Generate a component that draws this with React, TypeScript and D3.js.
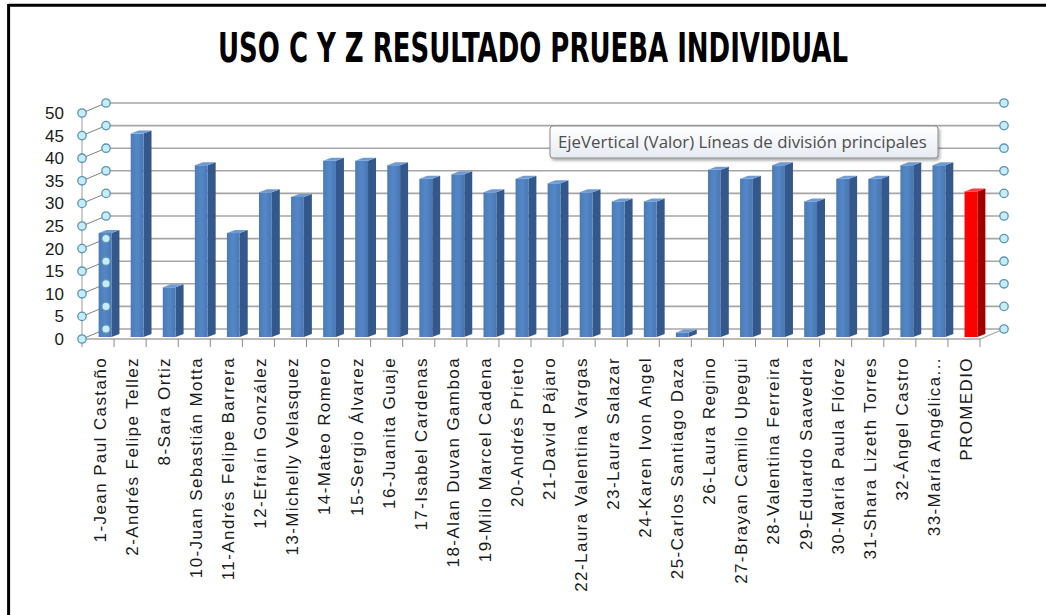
import React, { useLayoutEffect, useRef, useState } from "react";
import * as d3 from "d3";

const title = "USO C Y Z RESULTADO PRUEBA INDIVIDUAL";
const categories = [
  "1-Jean Paul Castaño",
  "2-Andrés Felipe Tellez",
  "8-Sara Ortiz",
  "10-Juan Sebastián  Motta",
  "11-Andrés Felipe Barrera",
  "12-Efraín González",
  "13-Michelly Velasquez",
  "14-Mateo Romero",
  "15-Sergio Álvarez",
  "16-Juanita Guaje",
  "17-Isabel Cardenas",
  "18-Alan Duvan Gamboa",
  "19-Milo Marcel Cadena",
  "20-Andrés Prieto",
  "21-David Pájaro",
  "22-Laura Valentina Vargas",
  "23-Laura Salazar",
  "24-Karen Ivon Angel",
  "25-Carlos Santiago  Daza",
  "26-Laura Regino",
  "27-Brayan Camilo  Upegui",
  "28-Valentina Ferreira",
  "29-Eduardo Saavedra",
  "30-María Paula Flórez",
  "31-Shara Lizeth Torres",
  "32-Ángel Castro",
  "33-María Angélica...",
  "PROMEDIO",
];
const values = [
  23, 45, 11, 38, 23, 32, 31, 39, 39, 38, 35, 36, 32, 35, 34, 32, 30, 30, 1, 37,
  35, 38, 30, 35, 35, 38, 38, 32.2,
];
const highlighted = ["PROMEDIO"];
const yTicks = [0, 5, 10, 15, 20, 25, 30, 35, 40, 45, 50];
const tooltipText = "EjeVertical (Valor)  Líneas de división principales";

export default function App() {
  const W = 1046;
  const H = 615;
  const x0 = 82;
  const x1 = 980;
  const depthX = 24;
  const depthY = -10;
  const y = d3.scaleLinear().domain([0, 50]).range([339, 113]);
  const band = d3
    .scaleBand<string>()
    .domain(categories)
    .range([x0, x1])
    .paddingInner(0.6)
    .paddingOuter(0.3);
  const ticksBand = d3.scaleBand<string>().domain(categories).range([x0, x1]).padding(0);
  const barShiftX = 7;
  const barShiftY = -2;
  const bdx = 8;
  const bdy = -3;
  const bw = band.bandwidth();

  const titleRef = useRef<SVGTextElement>(null);
  const tipRef = useRef<SVGTextElement>(null);
  const [titleScale, setTitleScale] = useState(0.75);
  const [tipScale, setTipScale] = useState(1);
  useLayoutEffect(() => {
    if (titleRef.current) {
      const len = titleRef.current.getComputedTextLength();
      if (len > 0) setTitleScale(630 / len);
    }
    if (tipRef.current) {
      const len = tipRef.current.getComputedTextLength();
      if (len > 0) setTipScale(369 / len);
    }
  }, []);

  const handle = (cx: number, cy: number, key: string) => (
    <circle key={key} cx={cx} cy={cy} r={4.2} fill="#c6ecf5" stroke="#5b93b5" strokeWidth={1.3} />
  );

  return (
    <svg
      width={W}
      height={H}
      style={{ position: "absolute", left: 0, top: 0, background: "#fff" }}
      fontFamily="'Liberation Sans', Arial, sans-serif"
    >
      <defs>
        <linearGradient id="blueFront" x1="0" x2="1" y1="0" y2="0">
          <stop offset="0" stopColor="#4a7bb9" />
          <stop offset="0.5" stopColor="#5587c6" />
          <stop offset="1" stopColor="#4877b4" />
        </linearGradient>
        <linearGradient id="tipFill" x1="0" x2="0" y1="0" y2="1">
          <stop offset="0" stopColor="#ffffff" />
          <stop offset="1" stopColor="#e6ebf2" />
        </linearGradient>
        <filter id="tipShadow" x="-5%" y="-20%" width="110%" height="160%">
          <feDropShadow dx="1.5" dy="2" stdDeviation="1.5" floodColor="#000" floodOpacity="0.35" />
        </filter>
      </defs>

      {/* frame: top and left edges */}
      <line x1={8.6} y1={5.3} x2={W} y2={5.3} stroke="#000" strokeWidth={3} />
      <line x1={8.6} y1={4} x2={8.6} y2={H} stroke="#000" strokeWidth={3} />

      <text
        ref={titleRef}
        transform={`translate(533,62) scale(${titleScale},1)`}
        textAnchor="middle"
        fontSize={40}
        fontWeight="bold"
        fontFamily="'DejaVu Sans Condensed', 'Liberation Sans', sans-serif"
        fill="#000"
      >
        {title}
      </text>

      {/* back wall gridlines */}
      {yTicks.map((t) => (
        <line
          key={"bg" + t}
          x1={x0 + depthX}
          x2={x1 + depthX}
          y1={y(t) + depthY}
          y2={y(t) + depthY}
          stroke="#a6a6a6"
          strokeWidth={1.6}
        />
      ))}
      {/* left wall gridlines */}
      {yTicks.map((t) => (
        <line
          key={"lg" + t}
          x1={x0}
          x2={x0 + depthX}
          y1={y(t)}
          y2={y(t) + depthY}
          stroke="#7f7f7f"
          strokeWidth={1}
        />
      ))}
      <line x1={x0} x2={x0} y1={y(0)} y2={y(50)} stroke="#9a9a9a" strokeWidth={1} />
      {/* floor */}
      <line x1={x0} x2={x1} y1={y(0)} y2={y(0)} stroke="#a6a6a6" strokeWidth={1.5} />
      <line x1={x1} x2={x1 + depthX} y1={y(0)} y2={y(0) + depthY} stroke="#a6a6a6" strokeWidth={1.2} />
      {/* category ticks */}
      {categories.map((c) => (
        <line
          key={"tk" + c}
          x1={ticksBand(c)!}
          x2={ticksBand(c)!}
          y1={y(0)}
          y2={y(0) + 8}
          stroke="#8c8c8c"
          strokeWidth={1}
        />
      ))}
      <line x1={x1} x2={x1} y1={y(0)} y2={y(0) + 8} stroke="#8c8c8c" strokeWidth={1} />

      {/* bars */}
      {categories.map((c, i) => {
        const v = values[i];
        const bx = band(c)! + barShiftX;
        const base = y(0) + barShiftY;
        const top = y(v) + barShiftY;
        const red = highlighted.includes(c);
        const front = red ? "#ff0000" : "url(#blueFront)";
        const side = red ? "#a00000" : "#34588b";
        const topC = red ? "#ff3b3b" : "#6f9bd4";
        return (
          <g key={"bar" + c}>
            <polygon
              points={`${bx + bw},${top} ${bx + bw + bdx},${top + bdy} ${bx + bw + bdx},${base + bdy} ${bx + bw},${base}`}
              fill={side}
            />
            <rect x={bx} y={top} width={bw} height={base - top} fill={front} />
            <polygon
              points={`${bx},${top} ${bx + bdx},${top + bdy} ${bx + bw + bdx},${top + bdy} ${bx + bw},${top}`}
              fill={topC}
            />
          </g>
        );
      })}

      {/* selection handles */}
      {yTicks.map((t) => handle(x0, y(t), "hf" + t))}
      {yTicks.map((t) => handle(x0 + depthX, y(t) + depthY, "hb" + t))}
      {yTicks.map((t) => handle(x1 + depthX, y(t) + depthY, "hr" + t))}

      {/* y labels */}
      {yTicks.map((t) => (
        <text key={"yl" + t} x={64} y={y(t) + 6} textAnchor="end" fontSize={17} fill="#1a1a1a">
          {t}
        </text>
      ))}

      {/* x labels */}
      {categories.map((c) => (
        <text
          key={"xl" + c}
          transform={`translate(${ticksBand(c)! + ticksBand.bandwidth() / 2 + 2},357) rotate(-90)`}
          dy="0.35em"
          textAnchor="end"
          fontSize={17}
          letterSpacing={1.4}
          fill="#1a1a1a"
        >
          {c}
        </text>
      ))}

      {/* tooltip */}
      <g filter="url(#tipShadow)">
        <rect x={550} y={126} width={388} height={32} rx={3} fill="url(#tipFill)" stroke="#8a8a8a" strokeWidth={1} />
      </g>
      <text
        ref={tipRef}
        transform={`translate(558,148) scale(${tipScale},1)`}
        fontSize={17}
        fill="#4d4d4d"
        fontFamily="'Open Sans', 'DejaVu Sans', sans-serif"
      >
        {tooltipText}
      </text>
    </svg>
  );
}
